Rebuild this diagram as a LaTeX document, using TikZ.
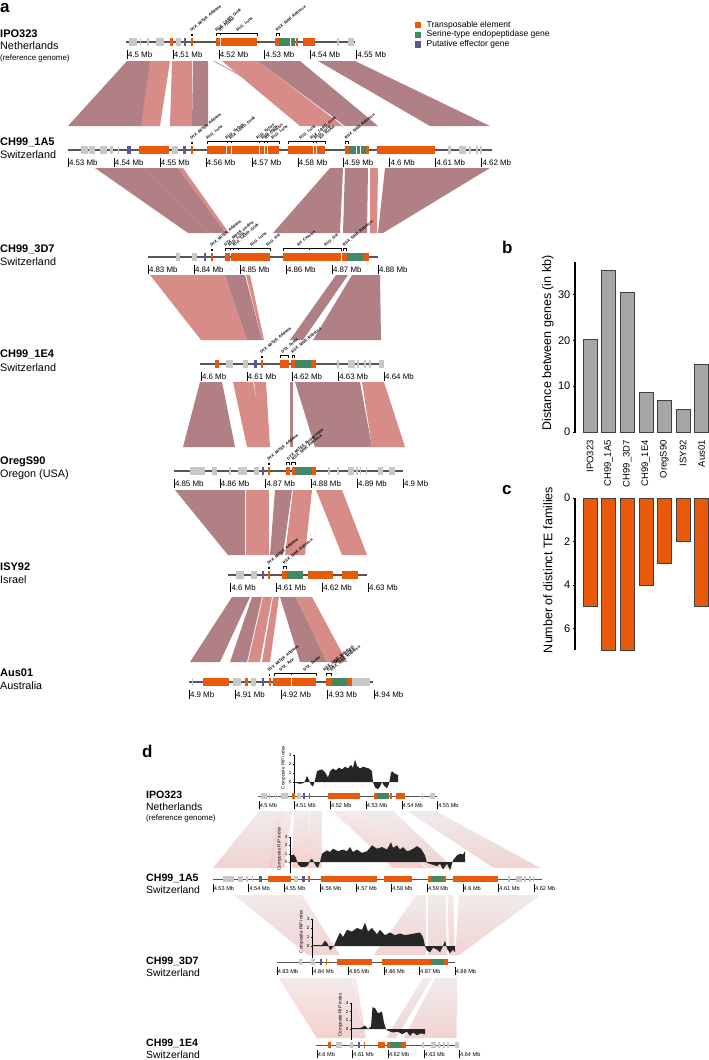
\documentclass[tikz,border=0pt]{standalone}
\usepackage{fontspec}
\setmainfont{Liberation Sans}
\definecolor{cTE}{RGB}{232,89,12}
\definecolor{cSG}{RGB}{66,136,98}
\definecolor{cPE}{RGB}{92,90,150}
\definecolor{cGR}{RGB}{200,200,200}
\definecolor{cLN}{RGB}{85,85,85}
\definecolor{cD}{RGB}{176,128,132}
\definecolor{cS}{RGB}{216,140,136}
\definecolor{cDLt}{RGB}{236,230,230}
\definecolor{cDLb}{RGB}{236,200,198}
\definecolor{cSLt}{RGB}{240,230,229}
\definecolor{cSLb}{RGB}{242,196,190}
\definecolor{barG}{RGB}{166,166,166}
\newcommand\sca{0.7756}
% features: y, a0, t0, scale, half height, list
\newcommand\feats[6]{\foreach \fa/\fb/\fc in #6 {\fill[c\fc] ({#3+(\fa-(#2))*#4},{#1-#5}) rectangle ({#3+(\fb-(#2))*#4},{#1+#5});}}
\newcommand\divs[6]{\foreach \fa in #6 {\draw[white,line width=0.45pt] ({#3+(\fa-(#2))*#4},{#1-#5}) -- ({#3+(\fa-(#2))*#4},{#1+#5});}}
% ticks: y, x0, step, off1, off2, style, list
\newcommand\ticks[7]{\foreach \l [count=\i from 0] in {#7}{\draw[tick] ({#2+\i*#3},{#1+#4}) -- ({#2+\i*#3},{#1+#5}); \node[#6] at ({#2+\i*#3},{#1+(#4+#5)/2}) {\l\ Mb};}}
% ribbons
\newcommand\gapA[3]{\foreach \ra/\rb/\rc/\rd/\fc in #3 {\fill[c\fc] (\ra,#1) -- (\rb,#1) -- (\rd,#2) -- (\rc,#2) -- cycle;}}
\newcommand\gapD[7]{\foreach \ra/\rb/\rc/\rd/\fc in #7 {\shade[top color=c\fc Lt, bottom color=c\fc Lb, opacity=0.8] ({#4+(\ra-(#3))*\sca},#1) -- ({#4+(\rb-(#3))*\sca},#1) -- ({#6+(\rd-(#5))*\sca},#2) -- ({#6+(\rc-(#5))*\sca},#2) -- cycle;}}
% RIP plot: axis x, y0, unit, points
\newcommand\rip[4]{\begin{scope}[shift={(0,#2)},y=#3pt]
 \fill[black!85] plot coordinates {#4} -- cycle;
 \draw[line width=0.6pt] (#1,-1.3) -- (#1,3);
 \foreach \t in {0,1,2,3} {\draw[line width=0.4pt] (#1,\t) -- ++(-1.5pt,0pt); \node[riptk] at (#1-2.5,\t) {\t};}
 \node[riplab] at (#1-10.5,1.6) {Composite RIP index};
 \end{scope}}
\newcommand\flab[3]{\node[flabel] at (#1,#2) {#3};}
\newcommand\fdot[2]{\fill (#1-0.8,#2-0.9) rectangle (#1+0.8,#2+0.9);}
\newcommand\fbrk[3]{\draw[brk] (#1,#3+2) -- (#1,#3) -- (#2,#3) -- (#2,#3+2);}
\def\fIPO{129/137/GR, 139.5/141/GR, 147/149/GR, 156/164/GR, 170/173/TE, 176/181/GR, 184/186/PE, 191/193/TE, 216/257/TE, 275/279/TE, 279/295/SG, 296/298/TE, 303/315/TE, 337/339/GR, 348/354/GR}
\def\fOneA{81/88/GR, 89/95/GR, 100/107/GR, 110/113/GR, 118/119/GR, 127/131/PE, 139/169/TE, 172/178/GR, 183/186/PE, 191/193/TE, 207/279/TE, 288/325/TE, 345/349/TE, 349/366/SG, 366/369/TE, 377/435/TE, 448/451/GR, 459/466/GR, 469/471/GR, 476/477.5/GR, 480/482/GR}
\def\fThreeD{176/180/GR, 192/197/GR, 204/206/PE, 211/213/TE, 225/230/TE, 231/270/TE, 283/341/TE, 342/347/TE, 347/363/SG, 363/369/TE}
\def\fOneE{215/219/TE, 226/233/GR, 243/248/GR, 254/257/PE, 261/263/TE, 280/289/TE, 291/295/TE, 295/311/SG, 311/316/TE, 337/339/GR, 348/355/GR, 357/359/GR, 364/366/GR, 369/371/GR, 379/384/GR}
\def\fOreg{190/205/GR, 212/217/GR, 229/230.5/GR, 238/247/GR, 254/259/GR, 262/264/PE, 268/270/TE, 286/290/TE, 292/295/TE, 295/312/SG, 312/316/TE, 328/330/GR, 337/339/GR, 348/354/GR, 356/358/GR, 360/361/GR, 366/367/GR, 378/383/GR, 389/395/GR}
\def\fISY{236/244/GR, 251/257/GR, 262/264/PE, 268/270/TE, 282/287/TE, 287/303/SG, 308/333/TE, 342/358/TE}
\def\fAus{192/193/GR, 203/229/TE, 233/241/GR, 245/248/TE, 251/256/GR, 262/264/PE, 269/271/TE, 273/316/TE, 326/332/TE, 332/347/SG, 347/352/TE, 352/370/GR}
\def\gOne{127/158/68/143/D, 150/170/141/160/S, 172/192/170/192/S, 193/208/192/208/D, 213/214.3/333/334.3/D, 222/258/300/343/S, 258/300/345/378/D, 318/355/430/490/D}
\def\gTwo{95/145/188/210/D, 145/178/210/226/D, 178/183/226/229/S, 330/343/273/340/D, 345/368/343/367/D, 370/378/370/377/S, 385/490/378/383/D}
\def\gThree{150/225/201/247/S, 225/245/247/262/D, 246/250/262/264/S, 336/348/290/303/D, 352/380/313/381/D}
\begin{document}
\begin{tikzpicture}[x=1pt,y=-1pt,
  every node/.style={inner sep=0pt},
  nm/.style={anchor=west, font=\bfseries\fontsize{11}{12}\selectfont},
  ct/.style={anchor=west, font=\fontsize{10.8}{12}\selectfont},
  nmd/.style={anchor=west, font=\bfseries\fontsize{10.6}{12}\selectfont},
  ctd/.style={anchor=west, font=\fontsize{10.4}{12}\selectfont},
  rg/.style={anchor=west, font=\fontsize{7.9}{9}\selectfont},
  tkA/.style={anchor=west, inner sep=0.8pt, font=\fontsize{7.9}{8}\selectfont},
  tkD/.style={anchor=west, inner sep=0.6pt, font=\fontsize{5.6}{6}\selectfont},
  trk/.style={cLN, line width=1.1pt},
  trkd/.style={cLN, line width=0.9pt},
  tick/.style={black, line width=0.5pt},
  flabel/.style={rotate=40, anchor=south west, inner sep=0pt, font=\bfseries\fontsize{3.9}{4}\selectfont},
  brk/.style={black, line width=0.5pt},
  letter/.style={anchor=base west, font=\bfseries\fontsize{17}{17}\selectfont},
  riptk/.style={anchor=east, font=\fontsize{4.5}{5}\selectfont},
  riplab/.style={rotate=90, font=\fontsize{4.6}{5}\selectfont},
  axl/.style={rotate=90, font=\fontsize{12.5}{14}\selectfont},
  axt/.style={anchor=east, font=\fontsize{11}{12}\selectfont},
  bl/.style={rotate=90, anchor=east, font=\fontsize{9.5}{10}\selectfont},
  lg/.style={anchor=west, font=\fontsize{8.5}{10}\selectfont}
]
\useasboundingbox (0,0) rectangle (709,1060);
% ================= panel a: ribbons
\gapA{61}{126}{\gOne}
\gapA{168}{233}{\gTwo}
\gapA{275}{340}{\gThree}
\gapA{382}{447}{{200/222/183/235/D, 233/253/247/266/S, 254/266/263/270/S, 290/292.5/290/292.5/D, 295/360/315/372/D, 362/384/372/405/S}}
\gapA{490}{555}{{175/245/228/245/D, 246/269/246/269/S, 275/292/270/283/D, 293/312/285/305/S, 316/342/342/367/S}}
\gapA{597}{662}{{232/250/190/220/D, 252/262/230/247/D, 263/272/248/260/S, 273/279/262/270/S, 280/296/300/327/D, 296/312/327/347/S}}
% ================= panel a: tracks
\node[letter] at (0,12.5) {a};
% IPO323
\node[nm] at (0,34) {IPO323};
\node[ct] at (0,46) {Netherlands};
\node[rg] at (0,58) {(reference genome)};
\draw[trk] (126,42) -- (355,42);
\feats{42}{0}{0}{1}{4}{\fIPO}
\divs{42}{0}{0}{1}{4}{{220.5,290}}
\ticks{42}{127}{45.9}{8}{17}{tkA}{4.5,4.51,4.52,4.53,4.54,4.55}
\fdot{192}{35}
\flab{192}{32.5}{DTX\_MITE6\_Addams}
\fbrk{216}{257}{33.5}
\draw[brk] (220,33.5) -- (220,35);
\flab{217}{32}{RLX\_LARD\_Gridr}
\flab{220.5}{32}{RII\_Pinkie}
\flab{238}{32}{RLG\_Luna}
\fbrk{276}{279}{33.5}
\flab{277.5}{32}{RSX\_SINE\_Rebecca}
% CH99_1A5
\node[nm] at (0,142) {CH99\_1A5};
\node[ct] at (0,155) {Switzerland};
\draw[trk] (68,150) -- (492,150);
\feats{150}{0}{0}{1}{4}{\fOneA}
\divs{150}{0}{0}{1}{4}{{226,231,259,264,267,313,316,356,360}}
\ticks{150}{68}{45.95}{8}{17}{tkA}{4.53,4.54,4.55,4.56,4.57,4.58,4.59,4.6,4.61,4.62}
\fdot{192}{143}
\flab{192}{140.5}{DTX\_MITE6\_Addams}
\fbrk{207}{279}{141.5}
\foreach \xx in {227,231,259,264,267} {\draw[brk] (\xx,141.5) -- (\xx,143);}
\flab{208}{140}{RLG\_Luna}
\flab{227}{140}{RLG\_Venus}
\flab{231}{140}{RLX\_LARD\_Gridr}
\flab{258}{140}{RLG\_Venus}
\flab{263}{140}{RLG\_Luna}
\flab{266.5}{140}{RII\_Cassius}
\flab{273}{140}{RLG\_Luna}
\fbrk{288}{325}{141.5}
\foreach \xx in {313,316} {\draw[brk] (\xx,141.5) -- (\xx,143);}
\flab{301}{140}{RLG\_Luna}
\flab{312}{140}{RLX\_LARD\_Gridr}
\flab{316}{140}{RLG\_Luna}
\flab{321}{140}{RII\_Pinkie}
\fbrk{345}{348.5}{141.5}
\flab{346.5}{140}{RSX\_SINE\_Rebecca}
% CH99_3D7
\node[nm] at (0,249) {CH99\_3D7};
\node[ct] at (0,262) {Switzerland};
\draw[trk] (148,257) -- (378,257);
\feats{257}{0}{0}{1}{4}{\fThreeD}
\divs{257}{0}{0}{1}{4}{{341.5}}
\ticks{257}{148}{46}{8}{17}{tkA}{4.83,4.84,4.85,4.86,4.87,4.88}
\fdot{212}{250}
\flab{212}{247.5}{DTX\_MITE6\_Addams}
\fbrk{225}{270}{248.5}
\foreach \xx in {230,233,238} {\draw[brk] (\xx,248.5) -- (\xx,250);}
\flab{226}{247}{DTX\_MITE6\_Undine}
\flab{230}{247}{RLG\_Luna}
\flab{234.5}{247}{RLX\_LARD\_Gridr}
\flab{252}{247}{RLG\_Luna}
\flab{268}{247}{RLG\_Sol}
\fbrk{283}{341}{248.5}
\draw[brk] (309,248.5) -- (309,250);
\flab{299}{247}{RII\_Cassius}
\flab{326}{247}{RLG\_Sol}
\fbrk{343}{346}{248.5}
\flab{344.5}{247}{RSX\_SINE\_Rebecca}
% CH99_1E4
\node[nm] at (0,354) {CH99\_1E4};
\node[ct] at (0,368) {Switzerland};
\draw[trk] (200,364) -- (384,364);
\feats{364}{0}{0}{1}{4}{\fOneE}
\ticks{364}{201}{45.8}{8}{17}{tkA}{4.6,4.61,4.62,4.63,4.64}
\fdot{262}{357}
\flab{262}{354.5}{DTX\_MITE6\_Addams}
\fbrk{280}{288.5}{355.5}
\flab{283}{354}{DTX\_Sveta}
\fbrk{292}{294.5}{355.5}
\flab{293}{354}{RSX\_SINE\_Rebecca}
% OregS90
\node[nm] at (0,462) {OregS90};
\node[ct] at (0,474.5) {Oregon (USA)};
\draw[trk] (174,471) -- (403,471);
\feats{471}{0}{0}{1}{4}{\fOreg}
\ticks{471}{174}{45.8}{8}{17}{tkA}{4.85,4.86,4.87,4.88,4.89,4.9}
\fdot{269}{464}
\flab{269}{461.5}{DTX\_MITE6\_Addams}
\fbrk{286}{289.5}{462.5}
\fbrk{291.5}{295}{462.5}
\flab{289}{461}{DTX\_MITE6\_Bridgemaier}
\flab{293.5}{461}{RSX\_SINE\_Rebecca}
% ISY92
\node[nm] at (0,567) {ISY92};
\node[ct] at (0,580) {Israel};
\draw[trk] (228,575) -- (367,575);
\feats{575}{0}{0}{1}{4}{\fISY}
\ticks{575}{230.5}{45.9}{8}{17}{tkA}{4.6,4.61,4.62,4.63}
\fdot{269}{568}
\flab{269}{565.5}{DTX\_MITE6\_Addams}
\fbrk{283}{286}{566.5}
\flab{284.5}{565}{RSX\_SINE\_Rebecca}
% Aus01
\node[nm] at (0,673) {Aus01};
\node[ct] at (0,686) {Australia};
\draw[trk] (189,682) -- (373,682);
\feats{682}{0}{0}{1}{4}{\fAus}
\divs{682}{0}{0}{1}{4}{{291}}
\ticks{682}{189}{46.2}{8}{17}{tkA}{4.9,4.91,4.92,4.93,4.94}
\fdot{269.5}{675}
\flab{269.5}{672.5}{DTX\_MITE6\_Addams}
\fbrk{274}{316}{673.5}
\draw[brk] (291,673.5) -- (291,675);
\flab{281}{672}{DTX\_Ada}
\flab{305}{672}{DTX\_Sveta}
\fbrk{326}{331}{673.5}
\flab{325}{672}{RSX\_SINE\_Rebecca}
\flab{328.5}{672}{DTX\_MITE6\_Pinkie}
\flab{332}{672}{RSX\_SINE\_Rebecca}
% ================= legend
\fill[cTE] (414.5,22) rectangle (421,28.3);
\fill[cSG] (414.5,31.6) rectangle (421,37.9);
\fill[cPE] (414.5,41.2) rectangle (421,47.5);
\node[lg] at (426.5,25) {Transposable element};
\node[lg] at (426.5,34.7) {Serine-type endopeptidase gene};
\node[lg] at (426.5,44.3) {Putative effector gene};
% ================= panel b
\node[letter] at (502,253) {b};
\node[axl] at (548,343) {Distance between genes (in kb)};
\foreach \v/\n [count=\i from 0] in {20.2/IPO323, 35.4/CH99\_1A5, 30.5/CH99\_3D7, 8.6/CH99\_1E4, 6.9/OregS90, 5.0/ISY92, 14.7/Aus01} {
  \filldraw[fill=barG, draw=black!75, line width=0.6pt] ({583+18.6*\i},432) rectangle ({597+18.6*\i},{432-4.58*\v});
  \node[bl] at ({590+18.6*\i},440) {\n};
}
\draw[line width=1.2pt] (575,262) -- (575,432.5);
\foreach \t in {0,10,20,30} {\draw[line width=0.6pt] (575,{432-4.58*\t}) -- ++(-2,0); \node[axt] at (570.5,{432-4.58*\t}) {\t};}
% ================= panel c
\node[letter] at (502,494) {c};
\node[axl] at (548,570) {Number of distinct TE families};
\foreach \v [count=\i from 0] in {5,7,7,4,3,2,5} {
  \filldraw[fill=cTE, draw=black!75, line width=0.6pt] ({583+18.6*\i},498) rectangle ({597+18.6*\i},{498+21.75*\v});
}
\draw[line width=1.2pt] (575,497.5) -- (575,650);
\foreach \t in {0,2,4,6} {\draw[line width=0.6pt] (575,{498+21.75*\t}) -- ++(-2,0); \node[axt] at (570.5,{498+21.75*\t}) {\t};}
% ================= panel d
\node[letter] at (142,757) {d};
\gapD{811}{868}{127}{259}{68}{213}{\gOne}
\gapD{895}{955}{68}{213}{148}{277}{\gTwo}
\gapD{978}{1038}{148}{277}{201}{317}{\gThree}
% RIP plots
\rip{294}{782}{9}{(294,0)(296,-0.1)(300,-0.2)(304,-0.1)(306,0.4)(307,0.7)(309,0.2)(311,-0.3)(313,-0.5)(315,0.2)(317,1.2)(319,1.3)(322,1.4)(325,1.1)(328,0.5)(330,1.2)(333,1.5)(336,1.3)(339,1.6)(342,1.4)(345,1.7)(348,1.5)(351,1.9)(353,1.6)(355,2.5)(357,1.8)(360,1.5)(363,1.7)(366,1.6)(369,1.5)(372,1.2)(373,0)(375,-0.6)(378,-0.8)(380,-0.5)(382,0)(384,-0.4)(387,-0.7)(389,-0.2)(391,1.0)(392,1.2)(395,0.9)(398,0.8)(398,0)}
\rip{290}{862}{8.3}{(290,0)(291,0.8)(294,0.9)(296,0.5)(298,-0.3)(301,-0.6)(305,-0.6)(308,-0.4)(310,0.2)(312,0.4)(314,0)(316,-0.5)(318,-0.7)(320,0)(322,1.0)(327,1.4)(330,1.2)(333,1.6)(338,1.3)(343,1.5)(347,1.3)(350,1.8)(353,1.2)(357,1.5)(362,1.1)(367,1.3)(372,2.0)(377,1.6)(382,1.8)(387,1.5)(391,2.4)(393,1.7)(397,2.0)(400,1.5)(403,1.8)(407,1.3)(410,1.4)(413,1.6)(417,1.9)(421,1.6)(425,0.8)(427,-0.1)(432,-0.3)(437,-0.5)(440,-0.2)(443,-0.9)(447,-0.2)(450,-1.0)(453,0.2)(457,0.8)(460,1.0)(463,0.9)(465,1.3)(465,0)}
\rip{312}{946}{9}{(312,0)(313,0.1)(322,0.1)(325,0.6)(328,0.2)(330,-0.5)(334,0)(337,0.8)(340,1.5)(343,1.0)(347,1.8)(352,1.6)(357,2.0)(362,1.8)(365,2.6)(368,1.6)(372,2.0)(377,1.3)(380,1.8)(385,1.2)(390,1.5)(395,1.2)(400,1.4)(405,1.2)(410,1.3)(415,1.4)(420,1.5)(423,1.0)(425,0)(427,-0.5)(430,-0.7)(433,-0.2)(437,-0.4)(440,-0.7)(443,0)(445,0.6)(447,-0.3)(450,-0.8)(453,-0.4)(455,-0.7)(455,0)}
\rip{351}{1029}{8.7}{(351,0)(352,0.1)(360,0.1)(362,0.2)(365,0.4)(368,0)(371,0.3)(372.5,2.5)(375,2.4)(378,1.8)(382,2.0)(384,0.7)(386,0)(388,-0.2)(393,-0.4)(398,-0.3)(402,-0.6)(407,-0.3)(410,-0.8)(413,-0.4)(417,-0.7)(421,-0.5)(425,-0.6)(425,0)}
% tracks d
\node[nmd] at (146,795) {IPO323};
\node[ctd] at (146,807) {Netherlands};
\node[rg] at (146,818) {(reference genome)};
\draw[trkd] (258,796) -- (437,796);
\feats{796}{127}{259}{\sca}{3.2}{\fIPO}
\ticks{796}{259}{35.7}{5}{13}{tkD}{4.5,4.51,4.52,4.53,4.54,4.55}
\node[nmd] at (146,878) {CH99\_1A5};
\node[ctd] at (146,890) {Switzerland};
\draw[trkd] (213,879) -- (542,879);
\feats{879}{68}{213}{\sca}{3.2}{\fOneA}
\ticks{879}{213}{35.7}{5}{13}{tkD}{4.53,4.54,4.55,4.56,4.57,4.58,4.59,4.6,4.61,4.62}
\node[nmd] at (146,961) {CH99\_3D7};
\node[ctd] at (146,973) {Switzerland};
\draw[trkd] (277,962) -- (455,962);
\feats{962}{148}{277}{\sca}{3.2}{\fThreeD}
\ticks{962}{277}{35.6}{5}{13}{tkD}{4.83,4.84,4.85,4.86,4.87,4.88}
\node[nmd] at (146,1043) {CH99\_1E4};
\node[ctd] at (146,1055) {Switzerland};
\draw[trkd] (316,1045) -- (459,1045);
\feats{1045}{201}{317}{\sca}{3.2}{\fOneE}
\ticks{1045}{317}{35.6}{5}{13}{tkD}{4.6,4.61,4.62,4.63,4.64}
\end{tikzpicture}
\end{document}
